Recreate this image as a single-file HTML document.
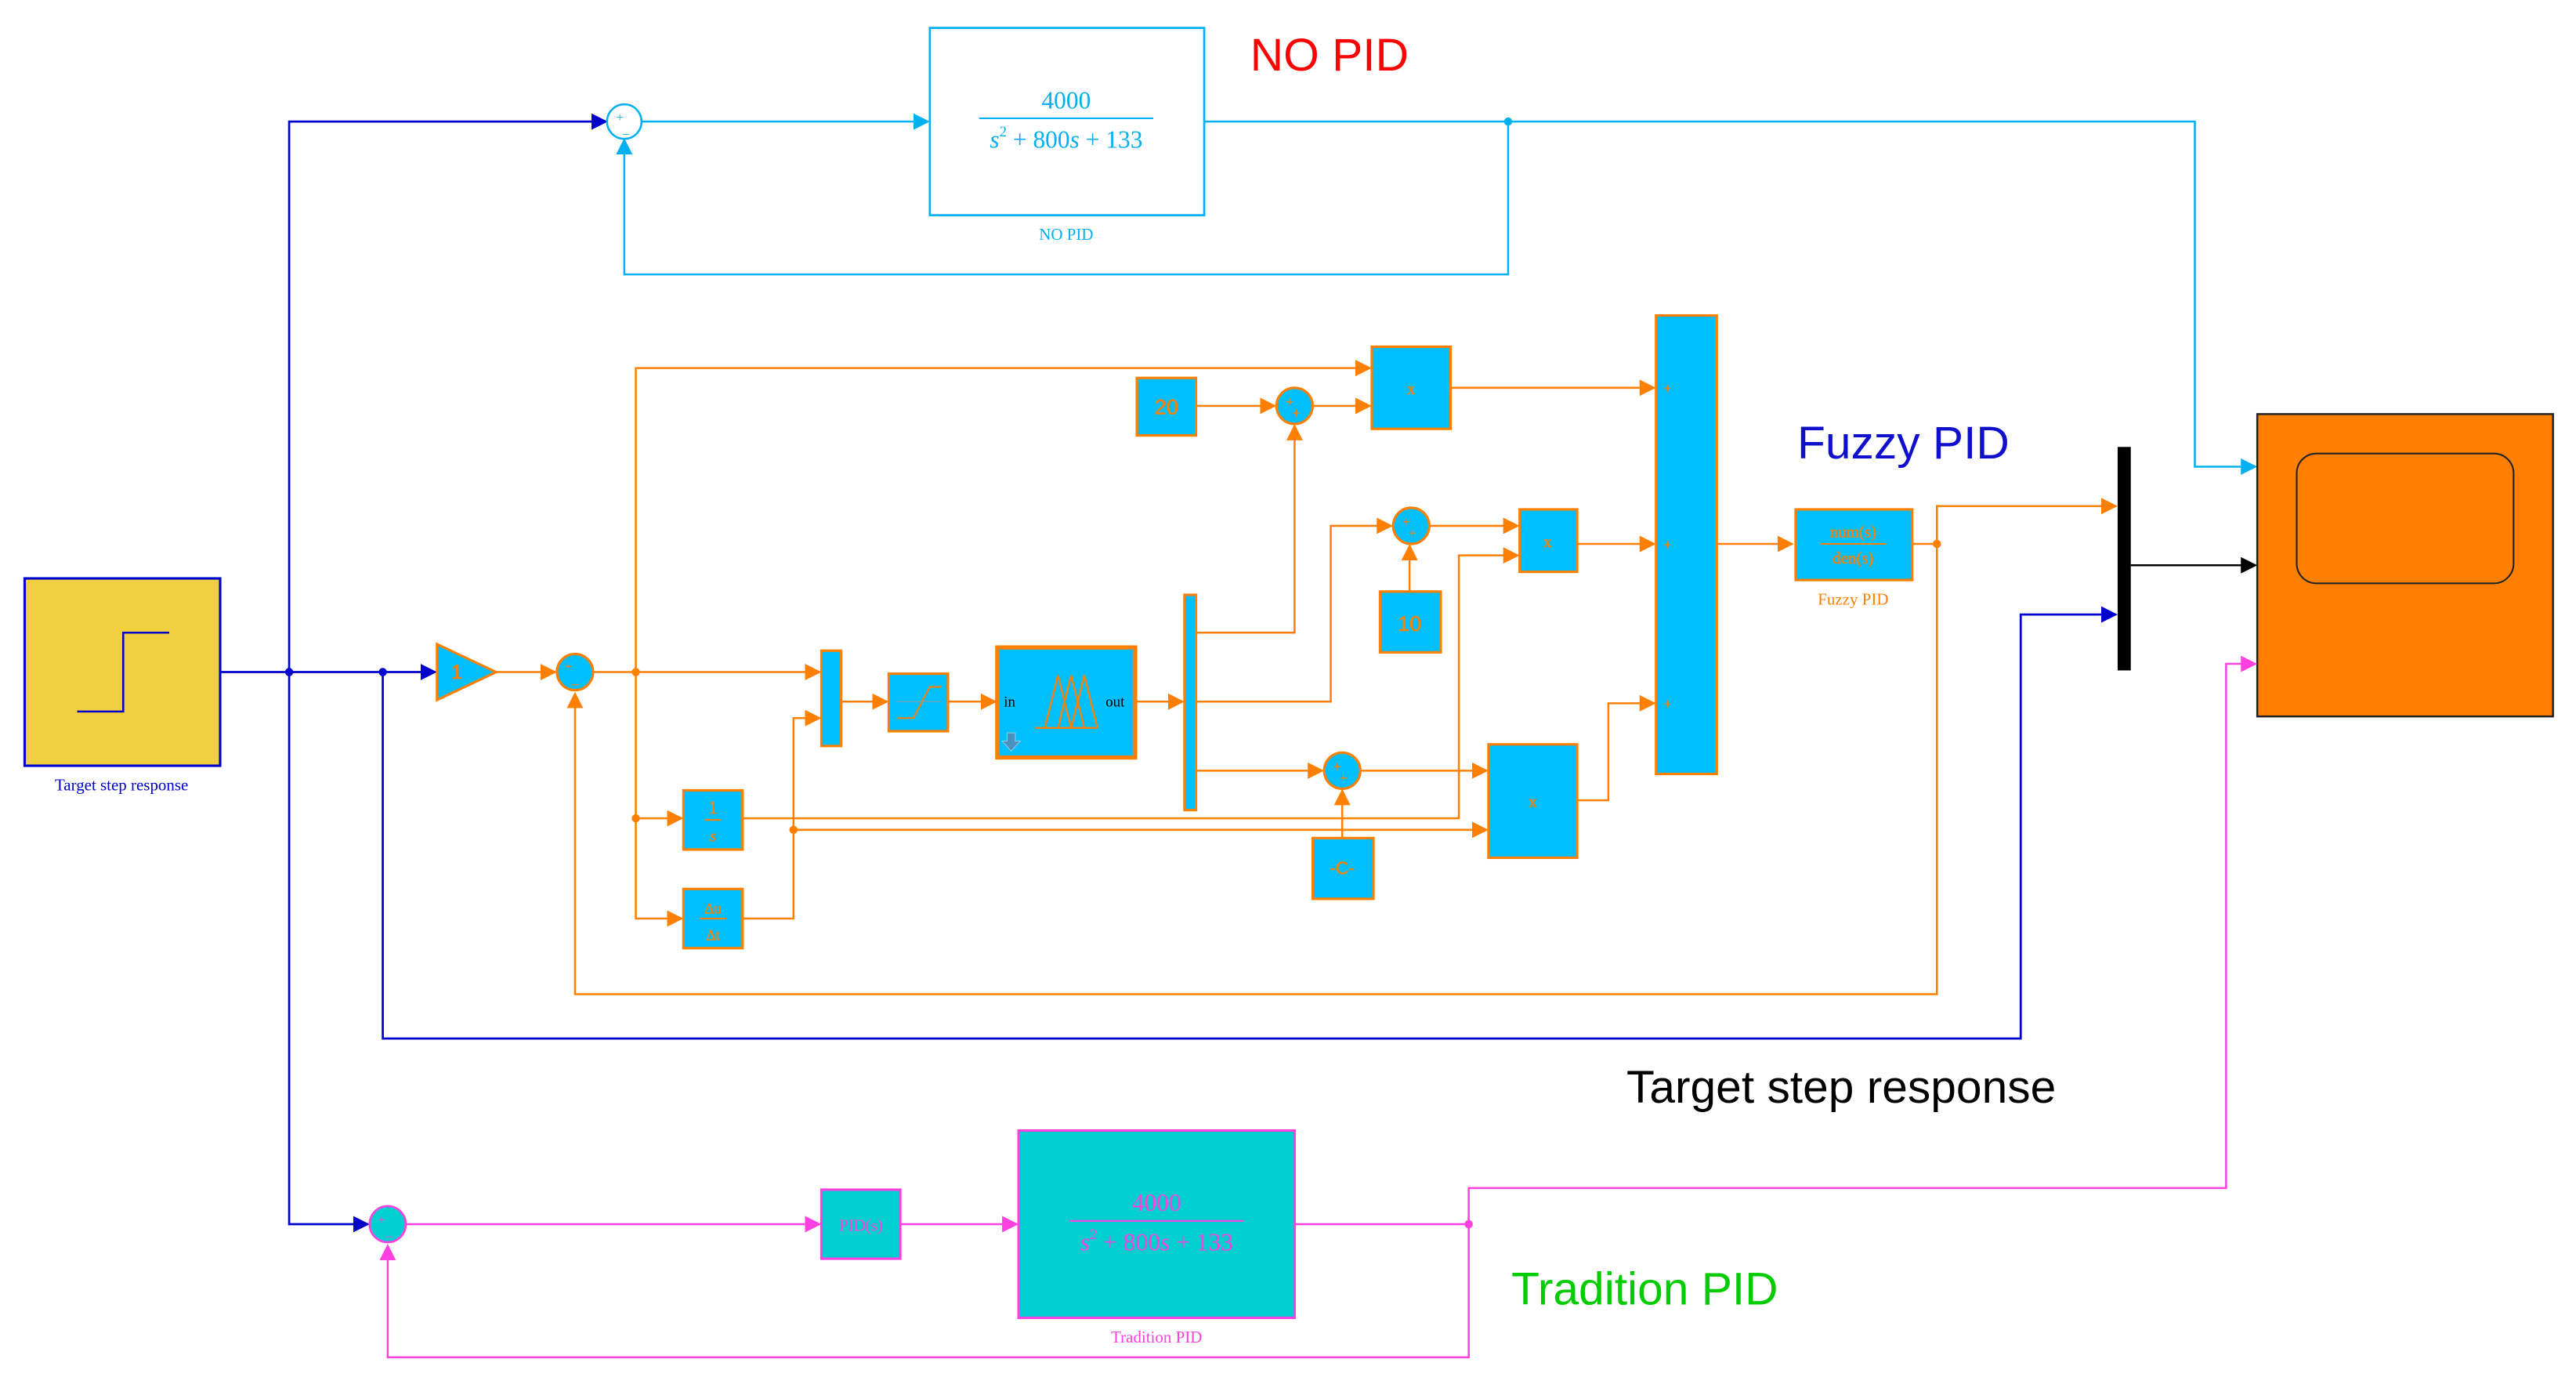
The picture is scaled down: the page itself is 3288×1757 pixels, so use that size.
<!DOCTYPE html>
<html><head><meta charset="utf-8"><style>
html,body{margin:0;padding:0;background:#fff;width:3288px;height:1757px;overflow:hidden}
svg{display:block}
text{font-family:"Liberation Serif",serif}
</style></head><body>
<svg width="3288" height="1757" viewBox="0 0 1568 838" preserveAspectRatio="none" xmlns="http://www.w3.org/2000/svg">
<defs>
<marker id="ab" markerWidth="10" markerHeight="10" refX="9" refY="5" orient="auto" markerUnits="userSpaceOnUse"><path d="M0,0 L10,5 L0,10z" fill="#0000cc"/></marker>
<marker id="ac" markerWidth="10" markerHeight="10" refX="9" refY="5" orient="auto" markerUnits="userSpaceOnUse"><path d="M0,0 L10,5 L0,10z" fill="#00b0f0"/></marker>
<marker id="ao" markerWidth="10" markerHeight="10" refX="9" refY="5" orient="auto" markerUnits="userSpaceOnUse"><path d="M0,0 L10,5 L0,10z" fill="#ff8000"/></marker>
<marker id="am" markerWidth="10" markerHeight="10" refX="9" refY="5" orient="auto" markerUnits="userSpaceOnUse"><path d="M0,0 L10,5 L0,10z" fill="#ff40e0"/></marker>
<marker id="ak" markerWidth="10" markerHeight="10" refX="9" refY="5" orient="auto" markerUnits="userSpaceOnUse"><path d="M0,0 L10,5 L0,10z" fill="#000"/></marker>
</defs>

<g fill="none" stroke="#0000cc" stroke-width="1.3">
<path d="M134,409 H265" marker-end="url(#ab)"/>
<path d="M176,409 V74 H369" marker-end="url(#ab)"/>
<path d="M176,409 V745 H224" marker-end="url(#ab)"/>
<path d="M233,409 V632 H1230 V374 H1288" marker-end="url(#ab)"/>
</g>
<circle cx="176" cy="409" r="2.5" fill="#0000cc"/>
<circle cx="233" cy="409" r="2.5" fill="#0000cc"/>

<g fill="none" stroke="#00b0f0" stroke-width="1.2">
<path d="M391,74 H565" marker-end="url(#ac)"/>
<path d="M733,74 H1336 V284 H1373" marker-end="url(#ac)"/>
<path d="M918,74 V167 H380 V85" marker-end="url(#ac)"/>
</g>
<circle cx="918" cy="74" r="2.5" fill="#00b0f0"/>
<circle cx="380" cy="74" r="10.5" fill="#fff" stroke="#00b0f0" stroke-width="1.2"/>
<text x="375" y="74" font-size="8" fill="#00b0f0">+</text><text x="379" y="81" font-size="8" fill="#00b0f0">_</text>
<rect x="566" y="17" width="167" height="114" fill="#fff" stroke="#00b0f0" stroke-width="1.3"/>
<text x="649" y="66" font-size="15" text-anchor="middle" fill="#00b0f0">4000</text>
<line x1="596" y1="72" x2="702" y2="72" stroke="#00b0f0" stroke-width="1"/>
<text x="649" y="90" font-size="15" text-anchor="middle" fill="#00b0f0"><tspan font-style="italic">s</tspan><tspan font-size="9" dy="-7">2</tspan><tspan dy="7"> + 800</tspan><tspan font-style="italic">s</tspan> + 133</text>
<text x="649" y="146" font-size="10" text-anchor="middle" fill="#00b0f0">NO PID</text>
<text x="761" y="43" font-size="28" fill="#ff0000" style="font-family:'Liberation Sans',sans-serif">NO PID</text>

<rect x="15" y="352" width="119" height="114" fill="#f0d040" stroke="#0000cc" stroke-width="1.5"/>
<path d="M47,433 H75 V385 H103" fill="none" stroke="#0000cc" stroke-width="1.2"/>
<text x="74" y="481" font-size="10" text-anchor="middle" fill="#0000cc">Target step response</text>

<g fill="none" stroke="#ff8000" stroke-width="1.2">
<path d="M302,409 H338" marker-end="url(#ao)"/>
<path d="M361,409 H499" marker-end="url(#ao)"/>
<path d="M387,409 V224 H834" marker-end="url(#ao)"/>
<path d="M387,409 V498 H415" marker-end="url(#ao)"/>
<path d="M387,498 V559 H415" marker-end="url(#ao)"/>
<path d="M452,498 H888 V338 H924" marker-end="url(#ao)"/>
<path d="M452,559 H483 V437 H499" marker-end="url(#ao)"/>
<path d="M483,505 H905" marker-end="url(#ao)"/>
<path d="M512,427 H540" marker-end="url(#ao)"/>
<path d="M577,427 H606" marker-end="url(#ao)"/>
<path d="M691,427 H720" marker-end="url(#ao)"/>
<path d="M728,385 H788 V259" marker-end="url(#ao)"/>
<path d="M728,427 H810 V320 H847" marker-end="url(#ao)"/>
<path d="M728,469 H805" marker-end="url(#ao)"/>
<path d="M728,247 H776" marker-end="url(#ao)"/>
<path d="M799,247 H834" marker-end="url(#ao)"/>
<path d="M858,360 V332" marker-end="url(#ao)"/>
<path d="M870,320 H924" marker-end="url(#ao)"/>
<path d="M817,510 V481" marker-end="url(#ao)"/>
<path d="M828,469 H905" marker-end="url(#ao)"/>
<path d="M883,236 H1007" marker-end="url(#ao)"/>
<path d="M960,331 H1007" marker-end="url(#ao)"/>
<path d="M960,487 H979 V428 H1007" marker-end="url(#ao)"/>
<path d="M1045,331 H1091" marker-end="url(#ao)"/>
<path d="M1164,331 H1179 V308 H1288" marker-end="url(#ao)"/>
<path d="M1179,331 V605 H350 V422" marker-end="url(#ao)"/>
</g>
<g fill="#ff8000">
<circle cx="387" cy="409" r="2.5"/><circle cx="387" cy="498" r="2.5"/><circle cx="483" cy="505" r="2.5"/><circle cx="1179" cy="331" r="2.5"/>
</g>

<g fill="#00bfff" stroke="#ff8000" stroke-width="1.5">
<path d="M266,392 L302,409 L266,426z"/>
<circle cx="350" cy="409" r="11"/>
<rect x="500" y="396" width="12" height="58"/>
<rect x="541" y="410" width="36" height="35"/>
<rect x="607" y="394" width="84" height="67" stroke-width="2.5"/>
<rect x="721" y="362" width="7" height="131"/>
<rect x="416" y="481" width="36" height="36"/>
<rect x="416" y="541" width="36" height="36"/>
<rect x="692" y="230" width="36" height="35"/>
<circle cx="788" cy="247" r="11"/>
<rect x="835" y="211" width="48" height="50"/>
<circle cx="859" cy="320" r="11"/>
<rect x="840" y="360" width="37" height="37"/>
<rect x="925" y="310" width="35" height="38"/>
<circle cx="817" cy="469" r="11"/>
<rect x="799" y="510" width="37" height="37"/>
<rect x="906" y="453" width="54" height="69"/>
<rect x="1008" y="192" width="37" height="279"/>
<rect x="1093" y="310" width="71" height="43"/>
</g>
<g font-size="10" fill="#ff8000" text-anchor="middle" stroke="#ff8000" stroke-width="0.2">
<text x="278" y="413" font-size="12" style="font-family:'Liberation Sans',sans-serif">1</text>
<text x="346" y="408" font-size="8">+</text><text x="350" y="416" font-size="8">_</text>
<text x="785" y="247" font-size="8">+</text><text x="789" y="254" font-size="8">+</text>
<text x="856" y="320" font-size="8">+</text><text x="860" y="327" font-size="8">+</text>
<text x="814" y="469" font-size="8">+</text><text x="818" y="476" font-size="8">+</text>
<text x="434" y="495" font-size="11">1</text>
<line x1="429" y1="499" x2="439" y2="499" stroke="#ff8000" stroke-width="1"/>
<text x="434" y="512" font-size="10" font-style="italic">s</text>
<text x="434" y="556" font-size="9">Δu</text>
<line x1="426" y1="559" x2="442" y2="559" stroke="#ff8000" stroke-width="1"/>
<text x="434" y="572" font-size="9">Δt</text>
<text x="710" y="252" font-size="13" style="font-family:'Liberation Sans',sans-serif">20</text>
<text x="858" y="384" font-size="13" style="font-family:'Liberation Sans',sans-serif">10</text>
<text x="817" y="532" font-size="11" style="font-family:'Liberation Sans',sans-serif">-C-</text>
<text x="859" y="240" font-size="10">x</text>
<text x="942" y="333" font-size="10">x</text>
<text x="933" y="491" font-size="10">x</text>
<text x="1015" y="239" font-size="8">+</text><text x="1015" y="334" font-size="8">+</text><text x="1015" y="431" font-size="8">+</text>
<text x="1128" y="327" font-size="10">num(s)</text>
<line x1="1108" y1="331" x2="1148" y2="331" stroke="#ff8000" stroke-width="1"/>
<text x="1128" y="343" font-size="10">den(s)</text>
<text x="1128" y="368" font-size="10" stroke="none">Fuzzy PID</text>
</g>
<path d="M546,437 H556 L566,418 H573" fill="none" stroke="#ff8000" stroke-width="1"/>
<line x1="546" y1="427" x2="573" y2="427" stroke="#999" stroke-width="0.5"/>
<g fill="none" stroke="#ff8000" stroke-width="1.1">
<path d="M630,443 H668"/>
<path d="M636,443 L644,411 L652,443"/><path d="M644,443 L652,411 L660,443"/><path d="M652,443 L660,411 L668,443"/>
</g>
<text x="611" y="430" font-size="9" fill="#000">in</text>
<text x="673" y="430" font-size="9" fill="#000">out</text>
<path d="M613,446 h5 v5 h3 l-5.5,6 l-5.5,-6 h3z" fill="#4a90c0" stroke="#9cd" stroke-width="0.5"/>

<rect x="1289" y="272" width="8" height="136" fill="#000"/>
<path d="M1297,344 H1373" fill="none" stroke="#000" stroke-width="1.2" marker-end="url(#ak)"/>
<rect x="1374" y="252" width="180" height="184" fill="#ff8000" stroke="#222" stroke-width="1.2"/>
<rect x="1398" y="276" width="132" height="79" rx="12" fill="#ff8000" stroke="#222" stroke-width="1"/>

<text x="1094" y="279" font-size="28" fill="#1010cc" style="font-family:'Liberation Sans',sans-serif">Fuzzy PID</text>
<text x="990" y="671" font-size="28" fill="#000" style="font-family:'Liberation Sans',sans-serif">Target step response</text>
<text x="920" y="794" font-size="28" fill="#00cc00" style="font-family:'Liberation Sans',sans-serif">Tradition PID</text>

<g fill="none" stroke="#ff40e0" stroke-width="1.2">
<path d="M247,745 H499" marker-end="url(#am)"/>
<path d="M548,745 H619" marker-end="url(#am)"/>
<path d="M788,745 H894 V723 H1355 V404 H1373" marker-end="url(#am)"/>
<path d="M894,745 V826 H236 V758" marker-end="url(#am)"/>
</g>
<circle cx="894" cy="745" r="2.5" fill="#ff40e0"/>
<circle cx="236" cy="745" r="11" fill="#00cfd0" stroke="#ff40e0" stroke-width="1.3"/>
<text x="230" y="745" font-size="8" fill="#ff40e0">+</text><text x="235" y="752" font-size="8" fill="#ff40e0">_</text>
<rect x="500" y="724" width="48" height="42" fill="#00cfd0" stroke="#ff40e0" stroke-width="1.5"/>
<text x="524" y="749" font-size="10" text-anchor="middle" fill="#ff40e0">PID(s)</text>
<rect x="620" y="688" width="168" height="114" fill="#00cfd0" stroke="#ff40e0" stroke-width="1.5"/>
<text x="704" y="737" font-size="15" text-anchor="middle" fill="#ff40e0">4000</text>
<line x1="651" y1="743" x2="757" y2="743" stroke="#ff40e0" stroke-width="1"/>
<text x="704" y="761" font-size="15" text-anchor="middle" fill="#ff40e0"><tspan font-style="italic">s</tspan><tspan font-size="9" dy="-7">2</tspan><tspan dy="7"> + 800</tspan><tspan font-style="italic">s</tspan> + 133</text>
<text x="704" y="817" font-size="10" text-anchor="middle" fill="#ff40e0">Tradition PID</text>
</svg>
</body></html>
